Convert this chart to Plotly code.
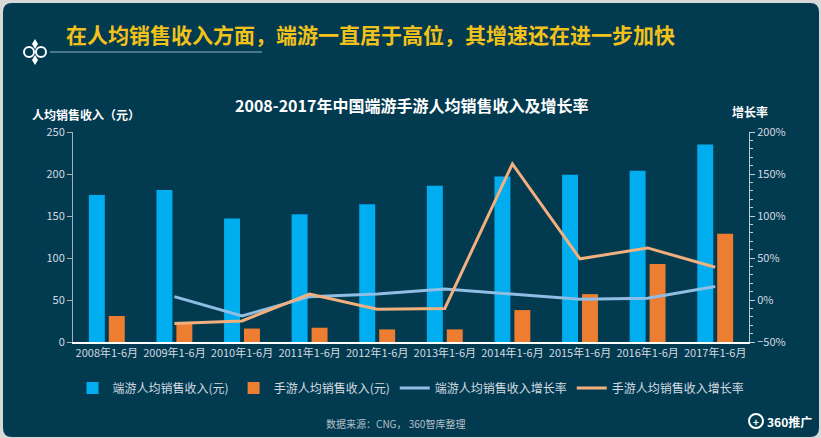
import plotly.graph_objects as go

categories = ["2008年1-6月", "2009年1-6月", "2010年1-6月", "2011年1-6月", "2012年1-6月",
              "2013年1-6月", "2014年1-6月", "2015年1-6月", "2016年1-6月", "2017年1-6月"]
pc_revenue = [175, 181, 147, 152, 164, 186, 197, 199, 204, 235]
mobile_revenue = [31, 22, 16, 17, 15, 15, 38, 57, 93, 129]
pc_growth = [None, 4, -19, 4, 7, 13, 7, 1, 2, 16]
mobile_growth = [None, -28, -25, 7, -11, -10, 162, 49, 62, 39]

W, H = 821, 438
L, R, T, B = 73, 749, 132, 342


def px(x):
    return (x - L) / (R - L)


def py(y):
    return (B - y) / (B - T)


BG = "#023a50"
TXT = "#d3dbe1"
FONT = "Noto Sans CJK SC"

fig = go.Figure()
fig.add_trace(go.Bar(x=categories, y=pc_revenue, name="端游人均销售收入(元)",
                     marker=dict(color="#00aeef", line=dict(width=0)), yaxis="y"))
fig.add_trace(go.Bar(x=categories, y=mobile_revenue, name="手游人均销售收入(元)",
                     marker=dict(color="#ed7d31", line=dict(width=0)), yaxis="y"))
fig.add_trace(go.Scatter(x=categories, y=pc_growth, name="端游人均销售收入增长率",
                         mode="lines", line=dict(color="#8fbde3", width=3), yaxis="y2"))
fig.add_trace(go.Scatter(x=categories, y=mobile_growth, name="手游人均销售收入增长率",
                         mode="lines", line=dict(color="#f2b07e", width=3), yaxis="y2"))

# rounded dark panel
x0, y0, x1, y1, r = 3, 3, 819, 437, 9
path = (f"M {px(x0+r)},{py(y0)} L {px(x1-r)},{py(y0)} Q {px(x1)},{py(y0)} {px(x1)},{py(y0+r)} "
        f"L {px(x1)},{py(y1-r)} Q {px(x1)},{py(y1)} {px(x1-r)},{py(y1)} "
        f"L {px(x0+r)},{py(y1)} Q {px(x0)},{py(y1)} {px(x0)},{py(y1-r)} "
        f"L {px(x0)},{py(y0+r)} Q {px(x0)},{py(y0)} {px(x0+r)},{py(y0)} Z")
shapes = [dict(type="path", path=path, xref="paper", yref="paper",
               fillcolor=BG, line=dict(width=0), layer="below")]
# header decoration line
shapes.append(dict(type="line", xref="paper", yref="paper", x0=px(50), x1=px(262),
                   y0=py(52), y1=py(52), line=dict(color="#8fb3c8", width=1)))
# decorative rings
for cx in (29, 41):
    shapes.append(dict(type="circle", xref="paper", yref="paper",
                       x0=px(cx-5), x1=px(cx+5), y0=py(47), y1=py(57),
                       line=dict(color="white", width=2)))
for cy in (44, 60):
    shapes.append(dict(type="path", xref="paper", yref="paper",
                       path=f"M {px(35)},{py(cy-5)} L {px(38)},{py(cy)} L {px(35)},{py(cy+5)} L {px(32)},{py(cy)} Z",
                       fillcolor="white", line=dict(width=0)))
# 360 logo circle
shapes.append(dict(type="circle", xref="paper", yref="paper",
                   x0=px(749), x1=px(763), y0=py(414), y1=py(428),
                   line=dict(color="white", width=2)))

annotations = [
    dict(text="<b>在人均销售收入方面，端游一直居于高位，其增速还在进一步加快</b>",
         x=px(64), y=py(34), xanchor="left", yanchor="middle",
         font=dict(family=FONT, size=21, color="#f2c21b")),
    dict(text="<b>2008-2017年中国端游手游人均销售收入及增长率</b>",
         x=px(411), y=py(105), xanchor="center", yanchor="middle",
         font=dict(family=FONT, size=16, color="white")),
    dict(text="<b>人均销售收入（元）</b>", x=px(30), y=py(114), xanchor="left", yanchor="middle",
         font=dict(family=FONT, size=12, color="white")),
    dict(text="<b>增长率</b>", x=px(750), y=py(112), xanchor="center", yanchor="middle",
         font=dict(family=FONT, size=12, color="white")),
    dict(text="数据来源：CNG， 360智库整理", x=px(395), y=py(423), xanchor="center", yanchor="middle",
         font=dict(family=FONT, size=10, color="#b5c0c8")),
    dict(text="<b>+</b>", x=px(756), y=py(421), xanchor="center", yanchor="middle",
         font=dict(family=FONT, size=10, color="white")),
    dict(text="<b>360推广</b>", x=px(765), y=py(421), xanchor="left", yanchor="middle",
         font=dict(family=FONT, size=12, color="white")),
]
for a in annotations:
    a.update(xref="paper", yref="paper", showarrow=False)

fig.update_layout(
    width=W, height=H,
    margin=dict(l=L, r=W - R, t=T, b=H - B),
    paper_bgcolor="#d8d8d8", plot_bgcolor=BG,
    barmode="group", bargap=0.41, bargroupgap=0.2,
    font=dict(family=FONT, size=11, color=TXT),
    showlegend=True,
    legend=dict(orientation="h", x=0.5, xanchor="center", y=py(388), yanchor="middle",
                font=dict(family=FONT, size=12, color=TXT), bgcolor="rgba(0,0,0,0)",
                itemwidth=30, traceorder="normal"),
    xaxis=dict(type="category", showgrid=False, showline=True, linecolor="white", linewidth=2,
               ticks="", tickfont=dict(size=11, color=TXT), zeroline=False),
    yaxis=dict(range=[0, 250], dtick=50, showgrid=False, zeroline=False, showline=True,
               linecolor="#9fb3c0", linewidth=1, ticks="outside", ticklen=5, tickcolor="#9fb3c0",
               tickfont=dict(size=11, color=TXT)),
    yaxis2=dict(range=[-50, 200], dtick=50, ticksuffix="%", overlaying="y", side="right",
                showgrid=False, zeroline=False, showline=True, linecolor="#c0ccd4", linewidth=1,
                ticks="outside", ticklen=5, tickcolor="#c0ccd4",
                minor=dict(dtick=10, ticks="outside", ticklen=3, tickcolor="#c0ccd4"),
                tickfont=dict(size=11, color=TXT)),
    shapes=shapes, annotations=annotations,
)

fig.write_html("out.html", config={"displayModeBar": False},
               post_script="document.body.style.margin='0';document.body.style.overflow='hidden';")
